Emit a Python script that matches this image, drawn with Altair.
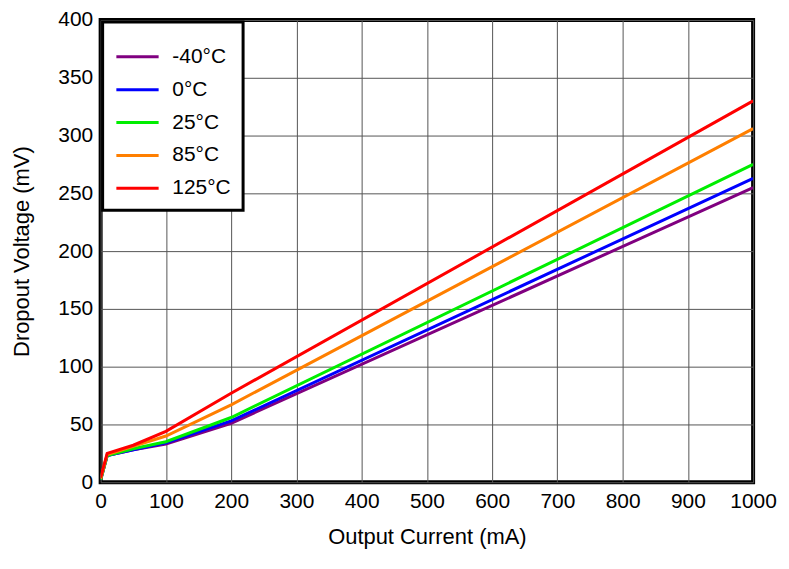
import altair as alt
import pandas as pd

current = [0, 10, 50, 100, 200, 1000]
series = ["-40°C", "0°C", "25°C", "85°C", "125°C"]
colors = ["#800080", "#0000ff", "#00ee00", "#ff7f00", "#ff0000"]
v_m40 = [2, 23, 28, 33, 51, 255]
v_0 = [2, 23, 28, 34, 53, 263]
v_25 = [2, 23, 29, 35, 56, 275]
v_85 = [3, 24, 31, 40, 67, 306]
v_125 = [4, 25, 32, 44, 77, 330]

rows = []
for name, vals in zip(series, [v_m40, v_0, v_25, v_85, v_125]):
    for x, y in zip(current, vals):
        rows.append({"current": x, "mv": y, "temp": name})
df = pd.DataFrame(rows)

font = "Liberation Sans"
chart = alt.Chart(df).mark_line(strokeWidth=3, clip=True).encode(
    x=alt.X("current:Q", title="Output Current (mA)",
            scale=alt.Scale(domain=[0, 1000], nice=False),
            axis=alt.Axis(values=list(range(0, 1001, 100)), format="d", labelFontSize=21,
                          titleFontSize=22, titleFontWeight="normal", tickSize=0,
                          labelPadding=8, domain=False, titlePadding=16,
                          labelOverlap=False, labelFlush=False)),
    y=alt.Y("mv:Q", title="Dropout Voltage (mV)",
            scale=alt.Scale(domain=[0, 400], nice=False),
            axis=alt.Axis(values=list(range(0, 401, 50)), format="d", labelFontSize=21,
                          titleFontSize=22, titleFontWeight="normal", tickSize=0,
                          labelPadding=8, domain=False, titlePadding=24,
                          labelFlush=False)),
    color=alt.Color("temp:N", sort=series, title=None,
                    scale=alt.Scale(domain=series, range=colors),
                    legend=alt.Legend(orient="none", legendX=2, legendY=2,
                                      symbolType="stroke", symbolStrokeWidth=3,
                                      symbolSize=1800, labelFontSize=21,
                                      rowPadding=-8, padding=12, labelOffset=12,
                                      strokeColor="black", fillColor="white",
                                      labelLimit=200)),
).properties(
    width=655, height=464,
    autosize=alt.AutoSizeParams(type="none"),
    padding={"left": 93, "top": 11, "right": 28, "bottom": 70},
).configure_axis(
    gridColor="#555555", gridWidth=1, labelFont=font, titleFont=font, labelColor="black",
    titleColor="black",
).configure_legend(labelFont=font, strokeWidth=3).configure_view(
    stroke="black", strokeWidth=4
)

chart.save("out.html", embed_options={"renderer": "svg", "actions": False})
